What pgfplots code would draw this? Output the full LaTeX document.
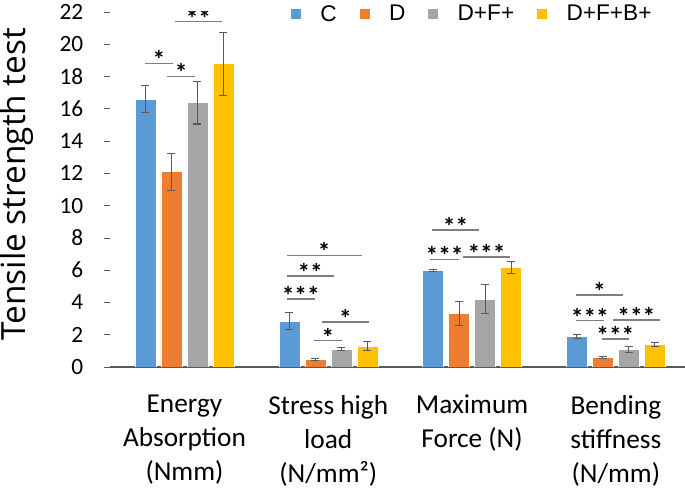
\documentclass[border=0pt]{standalone}
\usepackage{fontspec}
\setmainfont{Carlito}
\newfontfamily\legfont{Liberation Sans}
\newfontfamily\labfont{Open Sans}
\usepackage{pgfplots}
\pgfplotsset{compat=1.18}

\definecolor{cC}{HTML}{5B9BD5}
\definecolor{cD}{HTML}{ED7D31}
\definecolor{cDF}{HTML}{A5A5A5}
\definecolor{cDFB}{HTML}{FFC000}
\definecolor{errc}{HTML}{595959}
\definecolor{sigc}{HTML}{7F7F7F}

\pgfplotsset{
  sig/.style={sharp plot, forget plot, draw=sigc, line width=1.1pt, mark=none},
}
\newcommand{\stars}[1]{node[pos=0.5, anchor=base, yshift=-4pt, inner sep=0pt, text height=0.55em, text depth=0pt, font=\bfseries\fontsize{19}{19}\selectfont] {#1}}

\begin{document}
\begin{tikzpicture}
\useasboundingbox (-82.5pt,-90.75pt) rectangle (431.25pt,275.25pt);
\begin{axis}[
    at={(0pt,0pt)}, anchor=south west,
    width=431.25pt, height=266.25pt, scale only axis,
    ybar=3.75pt, bar width=15.75pt,
    xmin=-0.518, xmax=3.481, ymin=0, ymax=22,
    ytick={0,2,...,22},
    xtick={0,1,2,3},
    xticklabels={{Energy\\Absorption\\(Nmm)},{Stress high\\load\\(N/mm²)},{Maximum\\Force (N)},{Bending\\stiffness\\(N/mm)}},
    xticklabel style={align=center, font=\fontsize{20.5}{25.5}\selectfont, yshift=-13pt},
    yticklabel style={font=\fontsize{17.5}{20}\selectfont, /pgf/number format/assume math mode=true, xshift=-12pt},
    axis lines*=left,
    x axis line style={draw=errc, line width=0.9pt, -},
    y axis line style={draw=none},
    xtick style={draw=none},
    ytick style={draw=errc, line width=0.6pt},
    tick align=outside, major tick length=4.5pt,
    ylabel={Tensile strength test},
    ylabel style={at={(axis description cs:-0.162,0.515)}, anchor=center, font=\labfont\fontsize{25}{27}\selectfont},
    legend columns=-1,
    legend style={at={(axis description cs:0.63,0.994)}, anchor=center, draw=none, fill=none,
        font=\legfont\fontsize{17}{18}\selectfont,
        /tikz/every odd column/.append style={column sep=12pt},
        /tikz/every even column/.append style={column sep=14.5pt}},
    legend image code/.code={\fill[#1] (0pt,-4.1pt) rectangle (8.25pt,4.1pt);},
    error bars/y dir=both, error bars/y explicit,
    error bars/error bar style={draw=errc, line width=0.8pt},
    error bars/error mark options={rotate=90, mark size=3pt, draw=errc, line width=0.8pt},
]
\addplot[fill=cC, draw=white, line width=0.4pt] coordinates {
    (0,16.6) +- (0,0.85)
    (1,2.85) +- (0,0.52)
    (2,5.97) +- (0,0.05)
    (3,1.88) +- (0,0.13)
};
\addplot[fill=cD, draw=white, line width=0.4pt] coordinates {
    (0,12.1) +- (0,1.15)
    (1,0.47) +- (0,0.05)
    (2,3.32) +- (0,0.75)
    (3,0.58) +- (0,0.05)
};
\addplot[fill=cDF, draw=white, line width=0.4pt] coordinates {
    (0,16.38) +- (0,1.32)
    (1,1.12) +- (0,0.1)
    (2,4.21) +- (0,0.9)
    (3,1.09) +- (0,0.2)
};
\addplot[fill=cDFB, draw=white, line width=0.4pt] coordinates {
    (0,18.8) +- (0,1.95)
    (1,1.3) +- (0,0.27)
    (2,6.15) +- (0,0.37)
    (3,1.38) +- (0,0.12)
};
\legend{C, D, D+F+, D+F+B+}

% significance brackets
\addplot[sig] coordinates {(-0.275,18.8) (-0.08,18.8)} \stars{*};
\addplot[sig] coordinates {(-0.12,18.0) (0.073,18.0)} \stars{*};
\addplot[sig] coordinates {(-0.066,21.4) (0.26,21.4)} \stars{**};

\addplot[sig] coordinates {(0.711,6.9) (1.233,6.9)} \stars{*};
\addplot[sig] coordinates {(0.711,5.65) (1.038,5.65)} \stars{**};
\addplot[sig] coordinates {(0.711,4.2) (0.906,4.2)} \stars{***};
\addplot[sig] coordinates {(0.955,2.8) (1.282,2.8)} \stars{*};
\addplot[sig] coordinates {(0.9,1.63) (1.094,1.63)} \stars{*};

\addplot[sig] coordinates {(1.722,8.5) (2.049,8.5)} \stars{**};
\addplot[sig] coordinates {(1.708,6.67) (1.910,6.67)} \stars{***};
\addplot[sig] coordinates {(1.937,6.83) (2.264,6.83)} \stars{***};

\addplot[sig] coordinates {(2.722,4.46) (3.049,4.46)} \stars{*};
\addplot[sig] coordinates {(2.722,2.87) (2.917,2.87)} \stars{***};
\addplot[sig] coordinates {(2.979,2.91) (3.306,2.91)} \stars{***};
\addplot[sig] coordinates {(2.903,1.73) (3.090,1.73)} \stars{***};
\end{axis}
\end{tikzpicture}
\end{document}
